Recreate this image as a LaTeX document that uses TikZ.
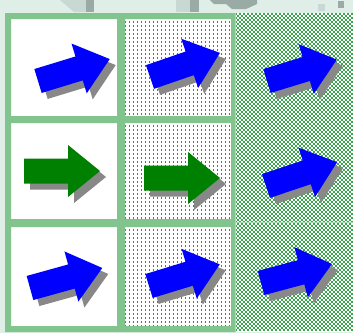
\documentclass[tikz,border=0pt]{standalone}
\definecolor{bgc}{RGB}{223,238,231}
\definecolor{pgreen}{RGB}{40,150,60}
\definecolor{cgreen}{RGB}{60,165,80}
\definecolor{bordergreen}{RGB}{130,196,142}
\definecolor{arrowblue}{RGB}{0,0,255}
\definecolor{arrowgreen}{RGB}{0,128,0}
\definecolor{shadowc}{RGB}{136,136,136}
\definecolor{decolight}{RGB}{200,216,210}
\definecolor{decodark}{RGB}{154,171,165}
\definecolor{sepline}{RGB}{170,218,180}
\tikzset{
  pics/bigarrow/.style 2 args={code={%
    \fill[#2] (0,-12.5) -- ({#1-32},-12.5) -- ({#1-32},-26) -- (#1,0) -- ({#1-32},26) -- ({#1-32},12.5) -- (0,12.5) -- cycle;}},
  dotline/.style={pgreen, line width=1.4pt, dash pattern=on 1.4pt off 2.6pt},
  coarseline/.style={cgreen, line width=1.5pt, dash pattern=on 1.5pt off 2.5pt},
  border/.style={fill=bordergreen},
}
\begin{document}
\begin{tikzpicture}[x=1pt,y=-1pt]
\useasboundingbox (0,0) rectangle (353,333);
\fill[bgc] (0,0) rectangle (353,333);
% background decorations at the top
\fill[decolight] (60,0) -- (86,0) -- (86,12) -- (74,12) -- cycle;
\fill[decodark] (86,0) rectangle (94,12);
\fill[decolight] (176,0) rectangle (190,12);
\fill[decodark] (190,0) rectangle (199,12);
\fill[decodark] (210,0) -- (257,0) -- (257,4) -- (246,9) -- (232,9) -- (226,4) -- (214,4) -- cycle;
\fill[decolight] (318,4) rectangle (325,11);
\fill[decodark] (338,1) rectangle (344,8);
% white ground of the grid
\fill[white] (5,13) rectangle (353,332);
% column 2: sparse dots
\foreach \k in {0,...,79} {
  \draw[dotline] (121,14+4*\k) -- (235,14+4*\k);
}
% column 3: coarse checker
\foreach \k in {0,...,158} {
  \pgfmathsetmacro\ph{2*mod(\k,2)}
  \draw[coarseline, dash phase=\ph pt] (235,14+2*\k) -- (353,14+2*\k);
}
% fine checker borders of columns 1 and 2
\path[border, even odd rule]
  (5,13) rectangle (235,332)
  (11,19) rectangle (117,116)
  (125,19) rectangle (231,116)
  (11,123) rectangle (117,219)
  (125,123) rectangle (231,219)
  (11,227) rectangle (117,326)
  (125,227) rectangle (231,326);
\draw[sepline, line width=0.8pt] (235,13) -- (235,332);
\draw[sepline, line width=0.8pt] (235,222) -- (353,222);
% arrows: shadows then arrows
\pic[rotate=17] at (44,87) {bigarrow={75}{shadowc}};
\pic[rotate=17] at (38,81) {bigarrow={75}{arrowblue}};
\pic[rotate=19] at (156,83) {bigarrow={74}{shadowc}};
\pic[rotate=19] at (150,77) {bigarrow={74}{arrowblue}};
\pic[rotate=17] at (273,87) {bigarrow={73}{shadowc}};
\pic[rotate=17] at (267,81) {bigarrow={73}{arrowblue}};
\pic at (30,177) {bigarrow={76}{shadowc}};
\pic at (24,171) {bigarrow={76}{arrowgreen}};
\pic at (150,184) {bigarrow={76}{shadowc}};
\pic at (144,178) {bigarrow={76}{arrowgreen}};
\pic[rotate=18.5] at (272,192) {bigarrow={75}{shadowc}};
\pic[rotate=18.5] at (266,186) {bigarrow={75}{arrowblue}};
\pic[rotate=15.5] at (36,294) {bigarrow={75}{shadowc}};
\pic[rotate=15.5] at (30,288) {bigarrow={75}{arrowblue}};
\pic[rotate=17] at (155,292) {bigarrow={74}{shadowc}};
\pic[rotate=17] at (149,286) {bigarrow={74}{arrowblue}};
\pic[rotate=15] at (267,289) {bigarrow={73.5}{shadowc}};
\pic[rotate=15] at (261,283) {bigarrow={73.5}{arrowblue}};
\end{tikzpicture}
\end{document}
